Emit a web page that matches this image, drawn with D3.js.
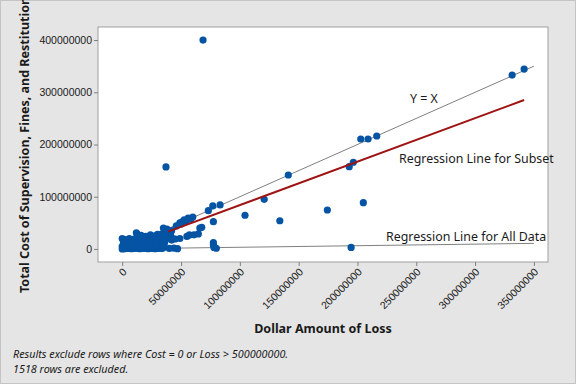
<!DOCTYPE html>
<html>
<head>
<meta charset="utf-8">
<script src="https://cdn.jsdelivr.net/npm/d3@7"></script>
<style>
  body { margin: 0; background: #e5e5e5; }
  svg { display: block; font-family: "Segoe UI", "Noto Sans", sans-serif; }
</style>
</head>
<body>
<svg id="chart" width="576" height="384"></svg>
<script>
// values in millions of dollars
var UNIT = 1e6;

var loss = [
    0, 1, 2, 3, 4, 5, 6, 7, 8, 9, 10, 11, 12, 13, 14, 15, 16, 17, 18, 19, 20, 21, 22, 23, 24, 25, 26, 27, 28, 29, 30, 31, 32, 33, 34, 35,
    0, 1, 2, 3, 4, 5, 6, 7, 8, 9, 10, 11, 12, 13, 14, 15, 16, 17, 18, 19, 20, 21, 22, 23, 24, 25, 26, 27, 28, 29, 30, 31, 32, 33, 34, 35, 36, 37,
    1, 2, 3, 0, 1, 4, 6, 8, 10, 12, 13, 14, 15, 16, 18, 20, 22, 24, 26, 28, 30, 32, 34, 36, 38, 40, 41, 42, 39, 43,
    37.2, 68.7, 49, 52.7, 56, 60, 50, 35, 38, 42, 49, 57.1, 64.7, 66, 67.6, 77, 73.2, 83.2, 77.5, 77.5, 77.5, 80, 78,
    104.4, 120.7, 134, 141.2, 174.4, 193, 196.5, 202.8, 209, 216.4, 205, 194.6, 331.5, 341.7, 40, 44, 47, 45, 55, 61,
    51, 54, 58, 46
];
var cost = [
    0, 1, 0.5, 2, 1, 3, 1, 2, 0.5, 3, 1, 2, 4, 1, 2, 0.5, 3, 1, 2, 4, 1, 3, 0.5, 2, 4, 1, 3, 2, 0.5, 4, 2, 1, 3, 2, 1, 3,
    5, 8, 6, 10, 7, 9, 12, 6, 10, 8, 13, 7, 11, 9, 14, 8, 12, 10, 15, 9, 13, 11, 16, 9, 14, 12, 17, 10, 15, 8, 13, 18, 11, 16, 9, 14, 12, 18,
    15, 18, 13, 20, 17, 17, 20, 16, 19, 31, 28, 24, 22, 26, 21, 24, 20, 27, 22, 25, 28, 24, 29, 26, 31, 33, 28, 35, 23, 20,
    157, 400, 50, 55.5, 59, 61, 48, 40, 38, 17, 20, 26.8, 28.7, 40, 41.5, 82.3, 73.3, 84.2, 52.2, 12, 7.7, 1.3, 3,
    64.5, 95, 54, 141.6, 74.6, 157.5, 166, 210.5, 210.5, 216.3, 88.6, 3, 333, 344.5, 1, 1.5, 0.5, 19, 24, 27,
    52, 53, 57, 44
];

var xTicks = [0, 50, 100, 150, 200, 250, 300, 350];
var yTicks = [0, 100, 200, 300, 400];

// reference lines
var identityRange = [0, 350];
var subsetFit = { from: 39, to: 341.7, slope: 0.833, intercept: 0.6 };
var allFit = { from: 0, to: 350, slope: 0.03, intercept: 0.2 };

var svg = d3.select("#chart");
var W = 576, H = 384;
var frame = { left: 98, right: 548, top: 27, bottom: 262 };

svg.append("rect")
    .attr("x", 0.5).attr("y", 0.5)
    .attr("width", W - 1).attr("height", H - 1)
    .attr("fill", "#e5e5e5")
    .attr("stroke", "#c4c4c4");

var x = d3.scaleLinear().domain([-20.6, 362]).range([frame.left, frame.right]);
var y = d3.scaleLinear().domain([-25, 425]).range([frame.bottom, frame.top]);

svg.append("rect")
    .attr("x", frame.left).attr("y", frame.top)
    .attr("width", frame.right - frame.left)
    .attr("height", frame.bottom - frame.top)
    .attr("fill", "white")
    .attr("stroke", "#a0a0a0");

function fmt(d) { return d === 0 ? "0" : d3.format("d")(d * UNIT); }

var xAxis = svg.append("g")
    .attr("transform", "translate(0," + frame.bottom + ")")
    .call(d3.axisBottom(x).tickValues(xTicks).tickSize(4).tickFormat(fmt));
xAxis.select(".domain").remove();
xAxis.selectAll("line").attr("stroke", "#808080");
xAxis.selectAll("text")
    .attr("font-size", 10.5)
    .attr("fill", "#1a1a1a")
    .attr("text-anchor", "end")
    .attr("x", 0)
    .attr("y", 0)
    .attr("dy", "0.35em")
    .attr("transform", "translate(2,8) rotate(-45)");

var yAxis = svg.append("g")
    .attr("transform", "translate(" + frame.left + ",0)")
    .call(d3.axisLeft(y).tickValues(yTicks).tickSize(4).tickFormat(fmt));
yAxis.select(".domain").remove();
yAxis.selectAll("line").attr("stroke", "#808080");
yAxis.selectAll("text")
    .attr("font-size", 10.5)
    .attr("fill", "#1a1a1a")
    .attr("x", -6);

var plot = svg.append("g");

plot.append("line")
    .attr("x1", x(identityRange[0])).attr("y1", y(identityRange[0]))
    .attr("x2", x(identityRange[1])).attr("y2", y(identityRange[1]))
    .attr("stroke", "#808080").attr("stroke-width", 1);

plot.append("line")
    .attr("x1", x(allFit.from)).attr("y1", y(allFit.intercept + allFit.slope * allFit.from))
    .attr("x2", x(allFit.to)).attr("y2", y(allFit.intercept + allFit.slope * allFit.to))
    .attr("stroke", "#808080").attr("stroke-width", 1);

plot.selectAll("circle")
    .data(d3.range(loss.length))
    .enter()
    .append("circle")
    .attr("cx", function(i) { return x(loss[i]); })
    .attr("cy", function(i) { return y(cost[i]); })
    .attr("r", 3.6)
    .attr("fill", "#0554a4");

plot.append("line")
    .attr("x1", x(subsetFit.from)).attr("y1", y(subsetFit.intercept + subsetFit.slope * subsetFit.from))
    .attr("x2", x(subsetFit.to)).attr("y2", y(subsetFit.intercept + subsetFit.slope * subsetFit.to))
    .attr("stroke", "#9e1414").attr("stroke-width", 2);

var notes = [
    { text: "Y = X", x: 410, y: 103 },
    { text: "Regression Line for Subset", x: 399, y: 163 },
    { text: "Regression Line for All Data", x: 386, y: 241 }
];
svg.selectAll("text.note")
    .data(notes)
    .enter()
    .append("text")
    .attr("class", "note")
    .attr("x", function(d) { return d.x; })
    .attr("y", function(d) { return d.y; })
    .attr("font-size", 12.4)
    .attr("fill", "#1a1a1a")
    .text(function(d) { return d.text; });

svg.append("text")
    .attr("x", (frame.left + frame.right) / 2)
    .attr("y", 333)
    .attr("text-anchor", "middle")
    .attr("font-size", 12.5)
    .attr("font-weight", "bold")
    .attr("fill", "#1a1a1a")
    .text("Dollar Amount of Loss");

svg.append("text")
    .attr("transform", "translate(29,293) rotate(-90)")
    .attr("font-size", 12.5)
    .attr("font-weight", "bold")
    .attr("fill", "#1a1a1a")
    .text("Total Cost of Supervision, Fines, and Restitution");

var footnotes = ["Results exclude rows where Cost = 0 or Loss > 500000000.", "1518 rows are excluded."];
svg.selectAll("text.foot")
    .data(footnotes)
    .enter()
    .append("text")
    .attr("class", "foot")
    .attr("x", 13)
    .attr("y", function(d, i) { return 358 + i * 15; })
    .attr("font-size", 10.8)
    .attr("font-style", "italic")
    .attr("fill", "#1a1a1a")
    .text(function(d) { return d; });
</script>
</body>
</html>
